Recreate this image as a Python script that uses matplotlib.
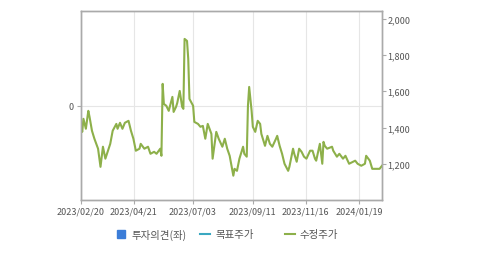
import matplotlib
matplotlib.use("Agg")
import matplotlib.pyplot as plt
from matplotlib.patches import Rectangle
from matplotlib.lines import Line2D

plt.rcParams['font.family'] = ['Noto Sans CJK KR', 'DejaVu Sans']

# trading-day index and adjusted price (수정주가)
day = [0, 1, 2, 4, 6, 7, 9, 11, 14, 16, 18, 20, 24, 26, 29, 30, 32, 34, 36, 39,
       41, 43, 45, 48, 49, 52, 55, 57, 60, 62, 65, 66, 67, 68, 70, 72, 75, 76, 78, 79,
       81, 83, 84, 85, 87, 88, 89, 92, 93, 96, 98, 100, 102, 104, 107, 108, 111, 113, 116, 118,
       120, 122, 125, 126, 128, 130, 133, 134, 136, 137, 138, 140, 141, 143, 145, 147, 148, 151, 153, 155,
       157, 160, 161, 163, 165, 167, 170, 171, 174, 175, 177, 179, 181, 183, 185, 188, 190, 192, 193, 196,
       198, 199, 200, 202, 206, 207, 210, 212, 215, 217, 220, 225, 227, 230, 233, 234, 237, 239, 243, 245, 247]
price = [1420, 1376, 1448, 1393, 1492, 1459, 1382, 1338, 1283, 1183, 1294, 1228, 1310, 1382, 1420, 1393, 1426, 1393, 1426, 1437,
         1382, 1338, 1272, 1283, 1310, 1283, 1294, 1255, 1266, 1255, 1283, 1244, 1641, 1530, 1520, 1492, 1569, 1486, 1514, 1536,
         1602, 1514, 1503, 1889, 1878, 1779, 1558, 1520, 1431, 1420, 1404, 1409, 1338, 1420, 1365, 1228, 1376, 1338, 1294, 1338,
         1283, 1244, 1134, 1172, 1161, 1228, 1294, 1255, 1239, 1520, 1624, 1492, 1404, 1376, 1437, 1420, 1365, 1299, 1354, 1310,
         1294, 1338, 1354, 1299, 1255, 1200, 1161, 1183, 1283, 1255, 1211, 1283, 1266, 1239, 1228, 1272, 1272, 1228, 1217, 1310,
         1200, 1321, 1299, 1283, 1294, 1272, 1239, 1255, 1228, 1244, 1200, 1217, 1200, 1189, 1200, 1244, 1217, 1172, 1172, 1172, 1189]

tick_pos = [0, 43.4, 91.8, 141, 184.4, 228]
tick_lab = ["2023/02/20", "2023/04/21", "2023/07/03", "2023/09/11", "2023/11/16", "2024/01/19"]
right_ticks = [1200, 1400, 1600, 1800, 2000]

fig = plt.figure(figsize=(4.79, 2.55), dpi=100)
ax = fig.add_axes([81/479, 54/255, 301/479, 189/255])
ax2 = ax.twinx()

spine_c = "#aaaaaa"
text_c = "#555555"

ax.set_xlim(0, 247)
ax.set_ylim(-1, 1)
ax.set_yticks([0])
ax.set_yticklabels(["0"])
ax.set_xticks(tick_pos)
ax.set_xticklabels(tick_lab)
ax.grid(True, color="#e6e6e6", linewidth=0.8)
ax.set_axisbelow(True)
ax.tick_params(axis="both", colors=spine_c, labelcolor=text_c, labelsize=6.5, length=3, pad=2)

ax2.plot(day, price, color="#8db04a", linewidth=1.5)
ax2.set_ylim(1000, 2043)
ax2.set_yticks(right_ticks)
ax2.set_yticklabels(["{:,}".format(v) for v in right_ticks])
ax2.tick_params(axis="y", colors=spine_c, labelcolor=text_c, labelsize=6.5, length=3, pad=1)

for a in (ax, ax2):
    for s in a.spines.values():
        s.set_color(spine_c)
        s.set_linewidth(1)

# legend at the bottom
fig.patches.append(Rectangle((117/479, (255-239)/255), 8/479, 8/255, color="#3b7dd8",
                             transform=fig.transFigure))
fig.text(132/479, (255-235)/255, "투자의견(좌)", fontsize=7.5, color=text_c, va="center")
fig.lines.append(Line2D([200/479, 210/479], [(255-235)/255]*2, color="#3aa8c1", linewidth=1.5,
                        transform=fig.transFigure))
fig.text(215/479, (255-235)/255, "목표주가", fontsize=7.5, color=text_c, va="center")
fig.lines.append(Line2D([285/479, 295/479], [(255-235)/255]*2, color="#8db04a", linewidth=1.5,
                        transform=fig.transFigure))
fig.text(299/479, (255-235)/255, "수정주가", fontsize=7.5, color=text_c, va="center")

fig.savefig("out.png", dpi=100)
